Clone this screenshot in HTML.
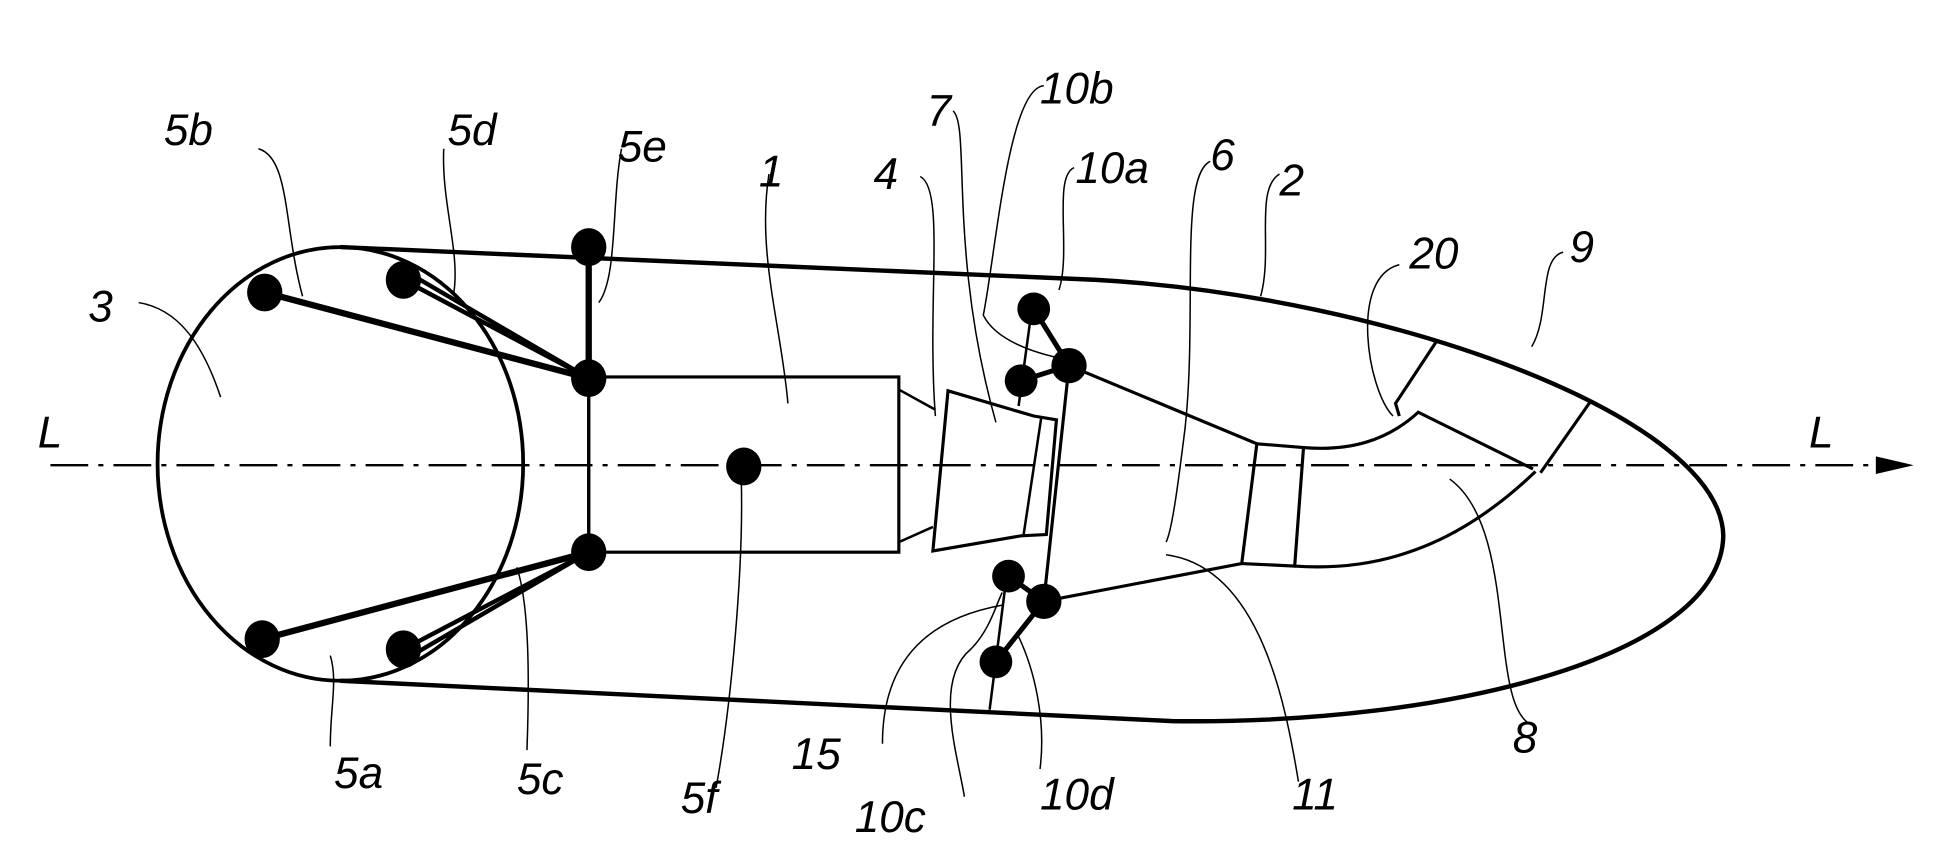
<!DOCTYPE html>
<html><head><meta charset="utf-8"><style>
html,body{margin:0;padding:0;background:#fff;}
svg{display:block;}
text{font-family:"Liberation Sans",sans-serif;font-style:italic;font-size:35px;fill:#000;}
</style></head><body>
<svg width="1954" height="856" viewBox="0 0 1550 679" preserveAspectRatio="none" xmlns="http://www.w3.org/2000/svg">
<g fill="none" stroke="#000">
<ellipse cx="270" cy="368" rx="145" ry="172" stroke-width="3"/>
<path d="M270,196 L870,222 C1100,235 1365,330 1367,425 C1365,520 1150,575 930,572 L270,540" stroke-width="3.5"/>
<line x1="40" y1="369" x2="1495" y2="369" stroke-width="1.8" stroke-dasharray="30,8,4,8"/>
<line x1="210" y1="232" x2="467" y2="300" stroke-width="5"/>
<path d="M320,222 L467,300 L330,220" stroke-width="3.5"/>
<line x1="467" y1="196" x2="467" y2="300" stroke-width="5"/>
<line x1="208" y1="507" x2="467" y2="438" stroke-width="5"/>
<path d="M320,515 L467,438 L330,518" stroke-width="3.5"/>
<line x1="467" y1="300" x2="467" y2="438" stroke-width="2.5"/>
<rect x="467" y="299" width="246" height="139" stroke-width="2.5"/>
<line x1="713" y1="309" x2="742" y2="325" stroke-width="2"/>
<line x1="713" y1="430" x2="740" y2="418" stroke-width="2"/>
<path d="M752,310 L820,330 L838,333 L830,424 L810,425 L740,437 Z" stroke-width="2.5"/>
<line x1="826" y1="331" x2="812" y2="424" stroke-width="2"/>
<path d="M848,290 L997,352 L985,447 L828,477" stroke-width="2.5"/>
<line x1="848" y1="290" x2="828" y2="477" stroke-width="2.5"/>
<path d="M997,352 L1034,355 L1027,449 L985,447" stroke-width="2.5"/>
<path d="M1034,355 C1070,358 1100,350 1125,327 L1216,372" stroke-width="2.5"/>
<path d="M1027,449 C1110,455 1170,420 1218,374" stroke-width="2.5"/>
<path d="M1140,270 L1107,320 L1110,330" stroke-width="2.5"/>
<path d="M1262,318 L1222,375" stroke-width="2.5"/>
<line x1="820" y1="234" x2="808" y2="322" stroke-width="2"/>
<line x1="820" y1="245" x2="848" y2="290" stroke-width="4"/>
<line x1="810" y1="302" x2="848" y2="290" stroke-width="4"/>
<line x1="800" y1="445" x2="785" y2="563" stroke-width="2"/>
<line x1="800" y1="457" x2="828" y2="477" stroke-width="4"/>
<line x1="790" y1="525" x2="828" y2="477" stroke-width="4"/>
</g>
<g fill="#000">
<ellipse cx="210" cy="232" rx="14" ry="15"/><ellipse cx="320" cy="222" rx="14" ry="15"/>
<ellipse cx="467" cy="196" rx="14" ry="15"/><ellipse cx="467" cy="300" rx="14" ry="15"/>
<ellipse cx="467" cy="438" rx="14" ry="15"/><ellipse cx="208" cy="507" rx="14" ry="15"/>
<ellipse cx="320" cy="515" rx="14" ry="15"/><ellipse cx="590" cy="370" rx="14" ry="15"/>
<ellipse cx="820" cy="245" rx="13" ry="13"/><ellipse cx="848" cy="290" rx="14" ry="14"/>
<ellipse cx="810" cy="302" rx="13" ry="13"/><ellipse cx="800" cy="457" rx="13" ry="13"/>
<ellipse cx="828" cy="477" rx="14" ry="14"/><ellipse cx="790" cy="525" rx="13" ry="13"/>
<polygon points="1518,369 1488,362 1488,376"/>
</g>
<g fill="none" stroke="#000" stroke-width="1.2">
<path d="M110,240 C140,245 160,270 175,315"/>
<path d="M205,118 C230,125 225,180 240,235"/>
<path d="M352,118 C350,160 365,200 360,232"/>
<path d="M493,118 C485,160 490,220 475,240"/>
<path d="M610,138 C600,200 620,260 625,320"/>
<path d="M730,140 C750,150 735,240 742,330"/>
<path d="M756,88 C770,100 752,200 790,335"/>
<path d="M828,68 C800,70 790,200 780,250 C790,270 820,280 845,285"/>
<path d="M852,133 C835,140 850,200 840,230"/>
<path d="M960,128 C935,140 950,250 940,340 C935,380 930,420 925,430"/>
<path d="M1015,138 C995,150 1010,200 1000,235"/>
<path d="M1110,210 C1070,220 1085,310 1105,330"/>
<path d="M1240,200 C1220,205 1230,250 1215,275"/>
<path d="M1215,575 C1180,560 1205,420 1150,380"/>
<path d="M1030,620 C1020,560 1000,450 925,440"/>
<path d="M825,610 C830,570 820,530 808,505"/>
<path d="M765,632 C760,600 740,540 770,515 C785,500 790,480 795,470"/>
<path d="M700,590 C700,520 740,490 795,480"/>
<path d="M568,625 C580,560 590,450 588,380"/>
<path d="M418,595 C420,540 420,480 410,450"/>
<path d="M262,592 C262,560 268,540 262,520"/>
</g>
<text x="70" y="255">3</text>
<text x="130" y="115">5b</text>
<text x="355" y="115">5d</text>
<text x="490" y="128">5e</text>
<text x="602" y="148">1</text>
<text x="693" y="150">4</text>
<text x="735" y="100">7</text>
<text x="825" y="82">10b</text>
<text x="853" y="145">10a</text>
<text x="960" y="135">6</text>
<text x="1015" y="155">2</text>
<text x="1118" y="213">20</text>
<text x="1245" y="208">9</text>
<text x="30" y="355">L</text>
<text x="1435" y="355">L</text>
<text x="1200" y="597">8</text>
<text x="1025" y="642">11</text>
<text x="825" y="642">10d</text>
<text x="678" y="660">10c</text>
<text x="628" y="610">15</text>
<text x="540" y="645">5f</text>
<text x="410" y="630">5c</text>
<text x="265" y="625">5a</text>
</svg>
</body></html>
